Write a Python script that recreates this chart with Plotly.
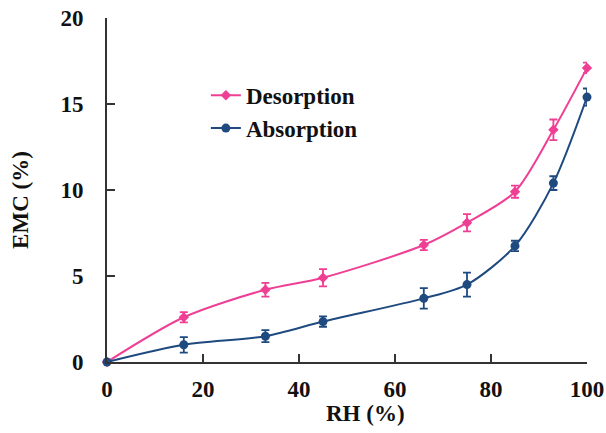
import plotly.graph_objects as go

rh = [0, 16, 33, 45, 66, 75, 85, 93, 100]
desorption = [0, 2.6, 4.2, 4.9, 6.8, 8.1, 9.9, 13.5, 17.1]
desorption_err = [0, 0.3, 0.4, 0.5, 0.3, 0.5, 0.35, 0.6, 0.3]
absorption = [0, 1.0, 1.5, 2.35, 3.7, 4.5, 6.75, 10.4, 15.4]
absorption_err = [0, 0.45, 0.35, 0.3, 0.6, 0.7, 0.3, 0.4, 0.5]

pink = "#ef3f95"
blue = "#1f4a80"
font_family = "Liberation Serif"
text_color = "#111111"

fig = go.Figure()
fig.add_trace(go.Scatter(
    x=rh, y=desorption, name="Desorption", mode="lines+markers", legendgroup="d",
    line=dict(color=pink, width=2, shape="spline", smoothing=0.8),
    marker=dict(color=pink, size=8, symbol="diamond"),
    error_y=dict(type="data", array=desorption_err, color=pink, thickness=1.8, width=4),
    cliponaxis=False,
))
fig.add_trace(go.Scatter(
    x=rh, y=absorption, name="Absorption", mode="lines+markers", legendgroup="a",
    line=dict(color=blue, width=2, shape="spline", smoothing=0.8),
    marker=dict(color=blue, size=9, symbol="circle"),
    error_y=dict(type="data", array=absorption_err, color=blue, thickness=1.8, width=4),
    cliponaxis=False,
))

axis_common = dict(
    showgrid=False, zeroline=False, showline=True, linecolor="#333333", linewidth=2,
    ticks="inside", ticklen=8, tickwidth=2, tickcolor="#333333",
    tickfont=dict(family=font_family, size=23, color=text_color, weight="bold"),
    automargin=False,
)

fig.update_layout(
    width=606, height=433,
    margin=dict(l=107, r=19, t=18, b=71),
    paper_bgcolor="white", plot_bgcolor="white",
    font=dict(family=font_family, color=text_color),
    showlegend=True,
    legend=dict(
        x=0.206, y=0.838, xanchor="left", yanchor="top",
        bgcolor="rgba(0,0,0,0)",
        font=dict(family=font_family, size=23, color=text_color, weight="bold"),
        tracegroupgap=0,
    ),
    xaxis=dict(
        range=[0, 100], tickvals=[0, 20, 40, 60, 80, 100],
        ticklabelstandoff=5,
        **axis_common,
    ),
    yaxis=dict(
        range=[0, 20], tickvals=[0, 5, 10, 15, 20],
        ticklabelstandoff=17,
        **axis_common,
    ),
    annotations=[
        dict(text="RH (%)", xref="paper", yref="paper", x=0.5375, y=-0.15,
             xanchor="center", yanchor="middle", showarrow=False,
             font=dict(family=font_family, size=23, color=text_color, weight="bold")),
        dict(text="EMC (%)", xref="paper", yref="paper", x=-0.18, y=0.47,
             xanchor="center", yanchor="middle", showarrow=False, textangle=-90,
             font=dict(family=font_family, size=23, color=text_color, weight="bold")),
    ],
)

# remove the default 8px page margin so the figure fills the window exactly
fig.write_html(
    "out.html",
    config={"displayModeBar": False},
    post_script="document.body.style.margin='0';document.body.style.overflow='hidden';",
)
